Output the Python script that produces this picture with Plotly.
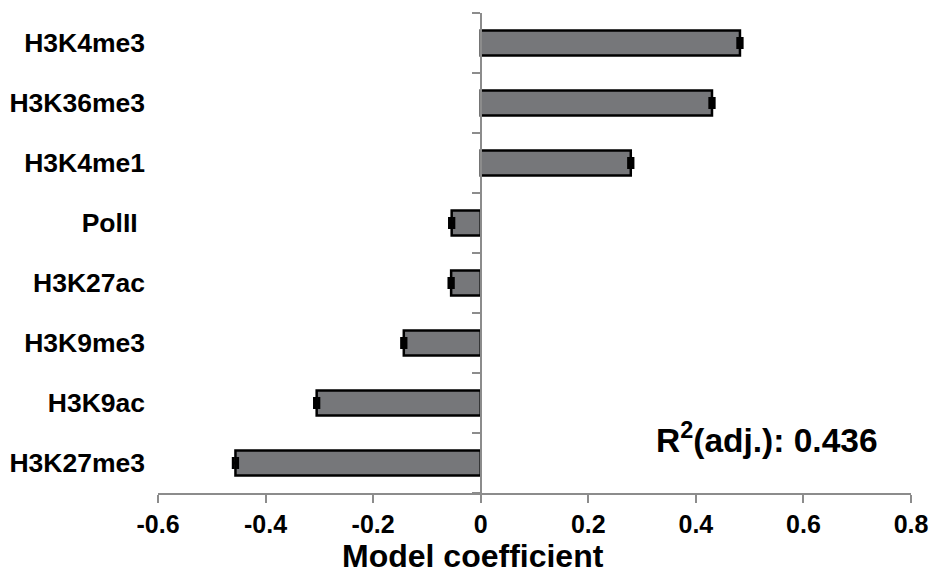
import plotly.graph_objects as go

# Model coefficients per chromatin mark (top to bottom)
marks = ["H3K4me3", "H3K36me3", "H3K4me1", "PolII\u00a0", "H3K27ac",
         "H3K9me3", "H3K9ac", "H3K27me3"]
coefficients = [0.482, 0.430, 0.279, -0.054, -0.055, -0.143, -0.305, -0.456]
std_errors = [0.004, 0.004, 0.004, 0.004, 0.004, 0.004, 0.004, 0.004]
x_ticks = [-0.6, -0.4, -0.2, 0, 0.2, 0.4, 0.6, 0.8]
r2_label = "R<sup>2</sup>(adj.): 0.436"

AXIS_GREY = "#8c8c8c"
FONT = "Liberation Sans"

# plot top-to-bottom: reverse so first category is at top
cats = marks[::-1]
vals = coefficients[::-1]
errs = std_errors[::-1]

fig = go.Figure()
fig.add_trace(go.Bar(
    x=vals, y=cats, orientation="h",
    marker=dict(color="#76777a", line=dict(color="#000000", width=2.5)),
    width=0.42,
    error_x=dict(type="data", array=errs, visible=True,
                 color="#000000", thickness=3, width=6),
    showlegend=False,
))

# invisible helper trace so the zero-line axis gets its ticks
fig.add_trace(go.Scatter(x=[0], y=[0], yaxis="y2", mode="markers",
                         marker=dict(opacity=0), showlegend=False,
                         hoverinfo="skip"))

n = len(marks)
fig.update_layout(
    width=934, height=574,
    margin=dict(l=158, r=23, t=13, b=81),
    plot_bgcolor="white", paper_bgcolor="white",
    xaxis=dict(
        range=[-0.6, 0.8], tickvals=x_ticks,
        ticktext=[f"{v:g}" for v in x_ticks],
        showgrid=False, zeroline=False, automargin=False,
        showline=True, linecolor=AXIS_GREY, linewidth=1.5,
        ticks="outside", ticklen=8, tickcolor=AXIS_GREY, tickwidth=1.5,
        tickfont=dict(family=FONT, size=25, color="black", weight="bold"),
    ),
    yaxis=dict(
        categoryorder="array", categoryarray=cats,
        range=[-0.5, n - 0.5], automargin=False,
        showgrid=False, zeroline=False, showline=False, ticks="",
        ticklabelstandoff=12,
        tickfont=dict(family=FONT, size=26.5, color="black", weight="bold"),
    ),
    yaxis2=dict(
        overlaying="y", anchor="free", position=0.6 / 1.4,
        range=[-0.5, n - 0.5], automargin=False,
        tickvals=[i - 0.5 for i in range(n + 1)],
        showticklabels=False, showgrid=False, zeroline=False,
        showline=True, linecolor=AXIS_GREY, linewidth=1.5,
        ticks="outside", ticklen=8, tickcolor=AXIS_GREY, tickwidth=1.5,
    ),
    annotations=[
        dict(text="Model coefficient", xref="x", yref="paper",
             x=-0.015, y=-63 / 480, xanchor="center",
             yanchor="middle", showarrow=False,
             font=dict(family=FONT, size=32, color="black", weight="bold")),
        dict(text=r2_label, xref="x", yref="paper",
             x=0.532, y=(493 - 438) / 480, xanchor="center",
             yanchor="middle", showarrow=False,
             font=dict(family=FONT, size=33.5, color="black", weight="bold")),
    ],
)

fig.write_html("out.html")
